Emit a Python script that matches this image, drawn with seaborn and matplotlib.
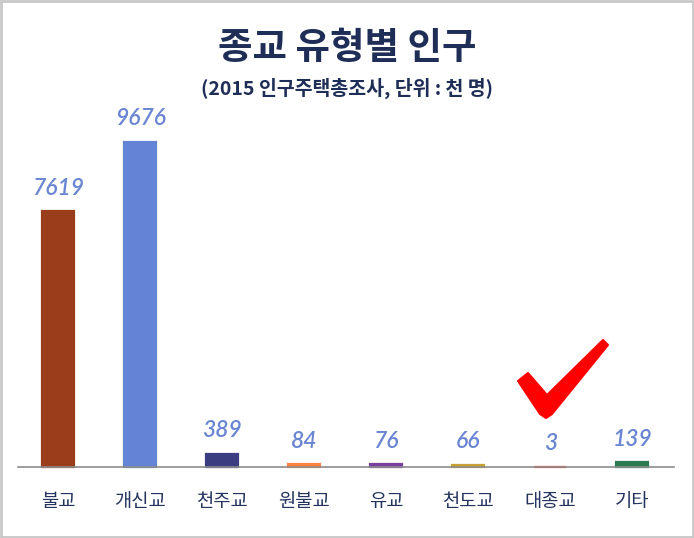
import matplotlib.pyplot as plt
import matplotlib as mpl
from matplotlib.patches import Polygon, Rectangle
import pandas as pd
import seaborn as sns

religions = ['불교', '개신교', '천주교', '원불교', '유교', '천도교', '대종교', '기타']
population = [7619, 9676, 389, 84, 76, 66, 3, 139]
bar_colors = ['#9A3D1B', '#6383D6', '#3A3E80', '#FF8142', '#7A3E9E', '#C9A133', '#FF3B3B', '#2A7A52']

sns.set_style('white')
plt.rcParams['font.family'] = ['Noto Sans CJK KR', 'DejaVu Sans']

df = pd.DataFrame({'religion': religions, 'pop': population})

fig = plt.figure(figsize=(6.94, 5.38), dpi=100)
ax = fig.add_axes([18 / 694, 71 / 538, 656 / 694, 369.5 / 538])
sns.barplot(data=df, x='religion', y='pop', hue='religion', palette=bar_colors,
            width=0.39, legend=False, ax=ax, saturation=1, zorder=1)
# thin outline in the bar colour so the tiny bars stay visible
for p, c in zip(ax.patches, bar_colors):
    p.set_edgecolor(c)
    p.set_linewidth(1.6)
    p.set_clip_on(False)

ax.set_xlim(-0.49, 7.51)
ax.set_ylim(0, 11000)
for s in ['top', 'right', 'left']:
    ax.spines[s].set_visible(False)
ax.spines['bottom'].set_color('#8C8C8C')
ax.spines['bottom'].set_linewidth(1.2)
ax.spines['bottom'].set_zorder(3)
ax.set_yticks([])
ax.set_xlabel('')
ax.set_ylabel('')
ax.tick_params(axis='x', length=0, pad=17, labelsize=13.5, labelcolor='#25345F')
for t in ax.get_xticklabels():
    t.set_fontweight('medium')

for i, v in enumerate(population):
    ax.annotate(str(v), (i, v), xytext=(0, 9), textcoords='offset points',
                ha='center', va='bottom', fontsize=16.5, style='italic', fontweight='semibold',
                color='#6A86D2', family=['Lato', 'DejaVu Sans'])

fig.text(0.5, 1 - 47 / 538, '종교 유형별 인구', ha='center', va='center',
         fontsize=27, fontweight='heavy', color='#1F2E57')
fig.text(0.5, 1 - 88 / 538, '(2015 인구주택총조사, 단위 : 천 명)', ha='center', va='center',
         fontsize=14, fontweight='bold', color='#1F2E57')

# red check mark
check = [(518, 381), (528, 373), (547, 395), (603, 340), (608, 345), (552, 414), (546, 418), (540, 414)]
check = [(x / 694, 1 - y / 538) for x, y in check]
fig.patches.append(Polygon(check, closed=True, transform=fig.transFigure,
                           facecolor='#FF0000', edgecolor='#FF0000', linewidth=1.5,
                           joinstyle='round'))

# frame
fig.patches.append(Rectangle((0.001, 0.001), 0.997, 0.997, transform=fig.transFigure,
                             fill=False, edgecolor='#C8C8C8', linewidth=2))

fig.savefig('out.png', dpi=100)
